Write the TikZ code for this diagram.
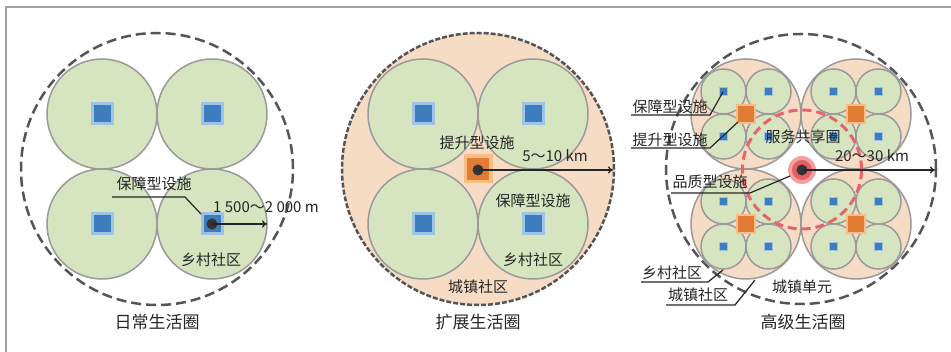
\documentclass[tikz,border=0pt]{standalone}
\usepackage{fontspec}
\setmainfont{Noto Sans CJK SC}
\usetikzlibrary{arrows.meta}
\definecolor{green1}{HTML}{D6E4BF}
\definecolor{ring}{HTML}{9A9A9A}
\definecolor{peach}{HTML}{F6DCC4}
\definecolor{bluelt}{HTML}{9DC4E6}
\definecolor{bluedk}{HTML}{3D7DBD}
\definecolor{orlt}{HTML}{F7BD82}
\definecolor{ordk}{HTML}{E27B34}
\definecolor{reddash}{HTML}{E8646A}
\definecolor{redlt}{HTML}{F2A0A0}
\definecolor{redmd}{HTML}{E35F62}
\definecolor{dashgray}{HTML}{555555}
\definecolor{framegray}{HTML}{A0A0A0}
\tikzset{
  greencirc/.style={fill=green1,draw=ring,line width=1.5pt},
  peachcirc/.style={fill=peach,draw=ring,line width=1.5pt},
  outerdash/.style={draw=dashgray,line width=2.5pt,dash pattern=on 10pt off 5pt},
  outerdashfine/.style={draw=dashgray,line width=2.5pt,dash pattern=on 5pt off 2pt},
  lbl/.style={font=\fontsize{15}{15}\selectfont,inner sep=0pt,text=black!85},
  ttl/.style={font=\fontsize{17}{17}\selectfont,inner sep=0pt,text=black!85},
  leader/.style={draw=black!85,line width=1.2pt},
  radarrow/.style={draw=black!85,line width=1.3pt,-{To[length=5pt,width=7pt]}},
  centerdot/.style={fill=black!80,draw=none},
}
% big blue square: #1 center
\newcommand{\bluesq}[3]{% center x, y, size scale
  \fill[bluelt] (#1-11.5*#3,#2-11.5*#3) rectangle (#1+11.5*#3,#2+11.5*#3);
  \fill[bluedk] (#1-8.5*#3,#2-8.5*#3) rectangle (#1+8.5*#3,#2+8.5*#3);}
\newcommand{\orsq}[3]{%
  \fill[orlt] (#1-14.5*#3,#2-14.5*#3) rectangle (#1+14.5*#3,#2+14.5*#3);
  \fill[ordk] (#1-11*#3,#2-11*#3) rectangle (#1+11*#3,#2+11*#3);}
\newcommand{\townunit}[2]{%
  \fill[peach] (#1,#2) circle (55pt);
  \foreach \dx in {-22.5,22.5}{\foreach \dy in {-22.5,22.5}{
    \draw[greencirc] (#1+\dx,#2+\dy) circle (22.5pt);
    \bluesq{#1+\dx}{#2+\dy}{0.36}
  }}
  \draw[draw=ring,line width=1.5pt] (#1,#2) circle (55pt);
  \orsq{#1}{#2}{0.69}}
\begin{document}
\begin{tikzpicture}[x=1pt,y=-1pt]
\useasboundingbox (0,0) rectangle (951,352);
\fill[white] (0,0) rectangle (951,352);
% frame
\draw[framegray,line width=1.5pt] (6,352) -- (6,7) -- (951,7);

% ================= Panel 1 =================
\coordinate (c1) at (157,169);
\draw[outerdash] (c1) circle (136pt);
\foreach \x/\y in {102/114,212/114,102/224,212/224}{
  \draw[greencirc] (\x,\y) circle (55pt);
  \bluesq{\x}{\y}{1}
}
\fill[centerdot] (212,224) circle (5.5pt);
\node[inner sep=0pt] (d1) at (212,224) {};
\coordinate (e1) at (267,224);
\draw[radarrow] (d1) -- (e1);
\node[lbl] (l1a) at (154,184) {保障型设施};
\coordinate (u1a) at (112,197);
\coordinate (u1b) at (185,197);
\coordinate (t1a) at (201,214);
\draw[leader] (u1a) -- (u1b) -- (t1a);
\node[lbl] (l1b) at (266,207) {1 500～2 000 m};
\node[lbl] (l1c) at (211,260) {乡村社区};
\node[ttl] (t1) at (157,322) {日常生活圈};

% ================= Panel 2 =================
\coordinate (c2) at (478,169);
\fill[peach] (c2) circle (136pt);
\foreach \x/\y in {423/114,533/114,423/224,533/224}{
  \draw[greencirc] (\x,\y) circle (55pt);
  \bluesq{\x}{\y}{1}
}
\draw[outerdashfine] (c2) circle (136pt);
\orsq{478}{169}{1}
\fill[centerdot] (478,170) circle (5.5pt);
\node[inner sep=0pt] (d2) at (478,170) {};
\coordinate (e2) at (613,170);
\draw[radarrow] (d2) -- (e2);
\node[lbl] (l2a) at (477,143) {提升型设施};
\node[lbl] (l2b) at (555,156) {5～10 km};
\node[lbl] (l2c) at (533,201) {保障型设施};
\node[lbl] (l2d) at (533,260) {乡村社区};
\node[lbl] (l2e) at (478,287) {城镇社区};
\node[ttl] (t2) at (478,322) {扩展生活圈};

% ================= Panel 3 =================
\coordinate (c3) at (801,169);
\draw[outerdash] (c3) circle (135pt);
\townunit{746}{114}
\townunit{856}{114}
\townunit{746}{224}
\townunit{856}{224}
\draw[draw=reddash,line width=3pt,dash pattern=on 9pt off 5pt] (802,169.5) circle (59.5pt);
\fill[redlt] (802,170) circle (14pt);
\fill[redmd] (802,170) circle (10pt);
\fill[centerdot] (802,170) circle (5.5pt);
\node[inner sep=0pt] (d3) at (802,170) {};
\coordinate (e3) at (935,170);
\draw[radarrow] (d3) -- (e3);
\node[lbl] (l3a) at (670,107) {保障型设施};
\coordinate (u3a1) at (631,115); \coordinate (u3a2) at (710,115); \coordinate (t3a) at (723,92);
\draw[leader] (u3a1) -- (u3a2) -- (t3a);
\node[lbl] (l3b) at (670,140) {提升型设施};
\coordinate (u3b1) at (631,148); \coordinate (u3b2) at (710,148); \coordinate (t3b) at (738,122);
\draw[leader] (u3b1) -- (u3b2) -- (t3b);
\node[lbl] (l3c) at (710,182) {品质型设施};
\coordinate (u3c1) at (671,193); \coordinate (u3c2) at (750,193); \coordinate (t3c) at (790,176);
\draw[leader] (u3c1) -- (u3c2) -- (t3c);
\node[lbl] (l3d) at (803,137) {服务共享圈};
\node[lbl] (l3e) at (872,156) {20～30 km};
\node[lbl] (l3f) at (672,273) {乡村社区};
\coordinate (u3f1) at (641,282); \coordinate (u3f2) at (708,282); \coordinate (t3f) at (723,270);
\draw[leader] (u3f1) -- (u3f2) -- (t3f);
\node[lbl] (l3g) at (698,295) {城镇社区};
\coordinate (u3g1) at (666,305); \coordinate (u3g2) at (735,305); \coordinate (t3g) at (755,280);
\draw[leader] (u3g1) -- (u3g2) -- (t3g);
\node[lbl] (l3h) at (802,287) {城镇单元};
\node[ttl] (t3) at (803,322) {高级生活圈};
\end{tikzpicture}
\end{document}
